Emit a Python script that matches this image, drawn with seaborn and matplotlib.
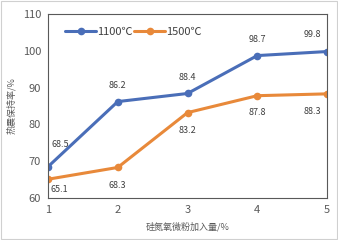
import matplotlib
matplotlib.use("Agg")
import matplotlib.pyplot as plt
import seaborn as sns
import pandas as pd

x_vals = [1, 2, 3, 4, 5]
s1100 = [68.5, 86.2, 88.4, 98.7, 99.8]
s1500 = [65.1, 68.3, 83.2, 87.8, 88.3]
series_names = ["1100℃", "1500℃"]
colors = ["#4A6EB8", "#E8893A"]

df = pd.DataFrame({
    "x": x_vals * 2,
    "y": s1100 + s1500,
    "s": [series_names[0]] * 5 + [series_names[1]] * 5,
})

sns.set_theme(style="white")
plt.rcParams['font.family'] = ['Noto Sans CJK SC', 'DejaVu Sans']

fig = plt.figure(figsize=(3.38, 2.4), dpi=100)
ax = fig.add_axes([48/338, 1 - 198/240, 279/338, 184/240])
sns.lineplot(data=df, x="x", y="y", hue="s", palette=colors, marker="o",
             markersize=5.5, linewidth=2.2, markeredgewidth=0, ax=ax)

ax.set_xlim(1, 5)
ax.set_ylim(60, 110)
ax.set_xticks(x_vals)
ax.set_yticks([60, 70, 80, 90, 100, 110])
ax.tick_params(axis="both", labelsize=8, colors="#595959", length=0, pad=5)
for sp in ax.spines.values():
    sp.set_color("#595959")
    sp.set_linewidth(0.8)
ax.set_xlabel("硅氮氧微粉加入量/%", fontsize=6.5, color="#595959", labelpad=5)
ax.set_ylabel("热震保持率/%", fontsize=6.5, color="#595959", labelpad=5)

off1 = [(12, 22), (0, 16), (0, 16), (0, 16), (-15, 17)]
for xv, yv, o in zip(x_vals, s1100, off1):
    ax.annotate(f"{yv}", (xv, yv), xytext=(o[0], o[1]), textcoords="offset pixels",
                fontsize=6.5, color="#404040", ha="center", va="center")
off2 = [(11, -10), (0, -18), (0, -18), (0, -17), (-15, -18)]
for xv, yv, o in zip(x_vals, s1500, off2):
    ax.annotate(f"{yv}", (xv, yv), xytext=(o[0], o[1]), textcoords="offset pixels",
                fontsize=6.5, color="#404040", ha="center", va="center")

leg = ax.legend(loc="upper left", bbox_to_anchor=(0.03, 0.98), ncol=2, frameon=False,
                fontsize=8, handlelength=2.8, columnspacing=0.1, handletextpad=0.1,
                borderaxespad=0.4)
for t in leg.get_texts():
    t.set_color("#404040")

fig.patches.append(plt.Rectangle((0.003, 0.004), 0.994, 0.992, transform=fig.transFigure,
                                 fill=False, edgecolor="#D0D0D0", linewidth=0.8))
fig.savefig("out.png", dpi=100)
